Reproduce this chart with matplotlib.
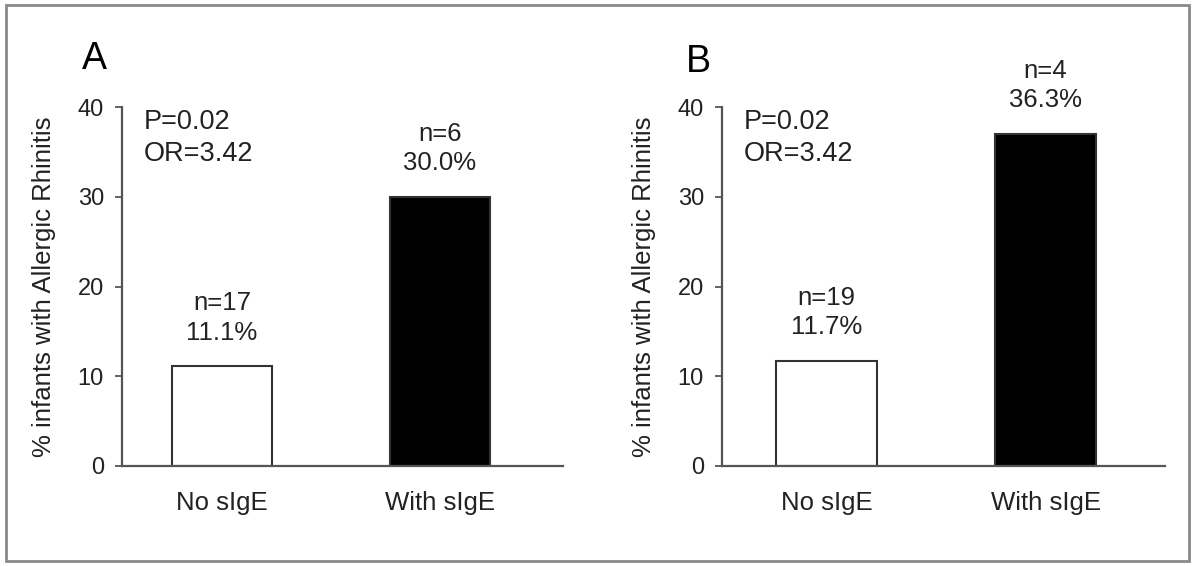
import matplotlib.pyplot as plt
from matplotlib.patches import Rectangle

# data
groups = ['No sIgE', 'With sIgE']
bars_a = [11.1, 30.0]
bars_b = [11.7, 37.0]
n_a = ['n=17', 'n=6']
n_b = ['n=19', 'n=4']
pct_a = ['11.1%', '30.0%']
pct_b = ['11.7%', '36.3%']
stats_text = 'P=0.02\nOR=3.42'
yticks = [0, 10, 20, 30, 40]
ylab = '% infants with Allergic Rhinitis'

plt.rcParams['font.family'] = ['Liberation Sans', 'DejaVu Sans']
txt = '#222222'
line = '#555555'

fig = plt.figure(figsize=(12, 5.66), dpi=100)

# outer frame of the picture
fig.patches.append(Rectangle((6/1200, 5/566), 1183/1200, 556/566, transform=fig.transFigure,
                             fill=False, edgecolor='#8a8a8a', linewidth=2))

def panel(rect, vals, ns, pcts, letter, letter_xy, xlim):
    ax = fig.add_axes(rect)
    ax.bar([0, 1], vals, width=0.46, color=['white', 'black'],
           edgecolor='#333333', linewidth=1.5)
    ax.set_xlim(xlim)
    ax.set_ylim(0, 40)
    ax.set_yticks(yticks)
    ax.set_xticks([0, 1])
    ax.set_xticklabels(groups, fontsize=18.5, color=txt)
    ax.tick_params(axis='x', length=0, pad=18)
    ax.tick_params(axis='y', direction='out', length=5, width=1.3, color=line,
                   labelsize=17, labelcolor=txt, pad=8)
    for s in ['top', 'right']:
        ax.spines[s].set_visible(False)
    for s in ['left', 'bottom']:
        ax.spines[s].set_color(line)
        ax.spines[s].set_linewidth(1.6)
    ax.set_ylabel(ylab, fontsize=18.5, color=txt)
    ax.yaxis.set_label_coords(-0.15, 0.5)
    for i in range(len(vals)):
        ax.text(i, vals[i] + 2.4, ns[i] + '\n' + pcts[i], ha='center', va='bottom',
                fontsize=18.5, color=txt, linespacing=1.3)
    ax.text(0.05, 0.995, stats_text, transform=ax.transAxes, ha='left', va='top',
            fontsize=19.5, color=txt, linespacing=1.3)
    fig.text(letter_xy[0], letter_xy[1], letter, fontsize=27, color='black', va='baseline')
    ax.patch.set_alpha(0)
    return ax

panel([122/1200, 1 - 466/566, 441/1200, 359/566], bars_a, n_a, pct_a, 'A',
      (82/1200, 1 - 69/566), (-0.459, 1.564))
panel([722/1200, 1 - 466/566, 443/1200, 359/566], bars_b, n_b, pct_b, 'B',
      (686/1200, 1 - 72/566), (-0.477, 1.545))

fig.savefig('out.png', dpi=100)
